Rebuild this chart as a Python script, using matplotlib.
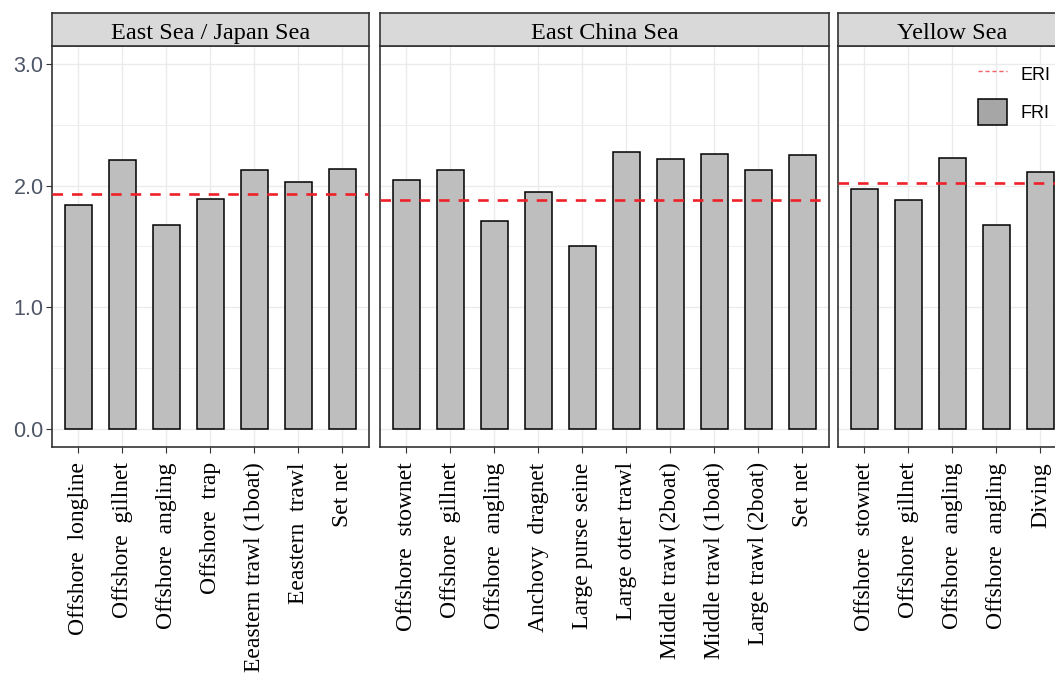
import matplotlib.pyplot as plt
from matplotlib.lines import Line2D
from matplotlib.patches import Patch
import numpy as np

# --- data ---
seas = ["East Sea / Japan Sea", "East China Sea", "Yellow Sea"]

east_gears = ["Offshore  longline", "Offshore  gillnet", "Offshore  angling",
              "Offshore  trap", "Eeastern trawl (1boat)", "Eeastern  trawl",
              "Set net"]
east_fri = [1.84, 2.21, 1.68, 1.89, 2.13, 2.03, 2.14]
east_eri = 1.93

ecs_gears = ["Offshore  stownet", "Offshore  gillnet", "Offshore  angling",
             "Anchovy  dragnet", "Large purse seine", "Large otter trawl",
             "Middle trawl (2boat)", "Middle trawl (1boat)",
             "Large trawl (2boat)", "Set net"]
ecs_fri = [2.05, 2.13, 1.71, 1.95, 1.50, 2.28, 2.22, 2.26, 2.13, 2.25]
ecs_eri = 1.88

yellow_gears = ["Offshore  stownet", "Offshore  gillnet", "Offshore  angling",
                "Offshore  angling", "Diving"]
yellow_fri = [1.975, 1.88, 2.225, 1.68, 2.11]
yellow_eri = 2.02

panels = [
    (east_gears, east_fri, east_eri),
    (ecs_gears, ecs_fri, ecs_eri),
    (yellow_gears, yellow_fri, yellow_eri),
]

W, H = 1055, 677
fig = plt.figure(figsize=(W / 100, H / 100), dpi=100)

# panel boxes in pixels: left edges, shared top/bottom
px_left = [52, 380, 838]
unit = 44.0
top_px, bot_px, strip_px = 46, 447, 33

BAR_FILL = "#bebebe"
RED = "#ee2028"
GRID = "#ebebeb"
FRAME = "#333333"
SERIF = "Liberation Serif"
SANS = "Liberation Sans"

for i, (gears, fri, eri) in enumerate(panels):
    n = len(gears)
    left = px_left[i]
    width = (n + 0.2) * unit
    ax = fig.add_axes([left / W, (H - bot_px) / H, width / W,
                       (bot_px - top_px) / H])
    x = np.arange(1, n + 1)
    ax.set_xlim(0.4, n + 0.6)
    ax.set_ylim(-0.15, 3.15)

    ax.set_yticks([0, 1, 2, 3])
    ax.set_yticks([0.5, 1.5, 2.5], minor=True)
    ax.tick_params(which="minor", left=False, bottom=False)
    ax.grid(True, which="major", color=GRID, lw=1.0)
    ax.grid(True, which="minor", axis="y", color=GRID, lw=0.6)
    ax.set_axisbelow(True)

    ax.bar(x, fri, width=0.6, color=BAR_FILL, edgecolor="black",
           linewidth=1.1, zorder=2)
    ax.axhline(eri, color=RED, lw=1.9, dashes=(4, 3.4), zorder=3)

    ax.set_xticks(x)
    ax.set_xticklabels(gears, rotation=90, family=SERIF,
                       fontsize=17, color="black", va="top")
    ax.tick_params(axis="x", length=4, color=FRAME, pad=7)
    if i == 0:
        ax.set_yticklabels(["0.0", "1.0", "2.0", "3.0"], family=SANS,
                           fontsize=15.5, color="#4d5566")
        ax.tick_params(axis="y", length=4, color=FRAME, pad=2)
    else:
        ax.tick_params(axis="y", left=False, labelleft=False)

    for s in ax.spines.values():
        s.set_color(FRAME)
        s.set_linewidth(1.2)

    # facet strip
    sax = fig.add_axes([left / W, (H - top_px) / H, width / W,
                        strip_px / H])
    sax.set_facecolor("#d9d9d9")
    sax.set_xticks([])
    sax.set_yticks([])
    for s in sax.spines.values():
        s.set_color(FRAME)
        s.set_linewidth(1.2)
    sax.text(0.5, 0.38, seas[i], transform=sax.transAxes, ha="center",
             va="center", family=SERIF, fontsize=17.5)

handles = [
    Line2D([0], [0], color=RED, lw=1.0, ls=(0, (3, 2)), alpha=0.7),
    Patch(facecolor="#a6a6a6", edgecolor="black", linewidth=1.1),
]
fig.legend(handles, ["ERI", "FRI"], loc="upper left",
           bbox_to_anchor=(974 / W, 1 - 58 / H), frameon=False,
           prop={"family": SANS, "size": 13}, handlelength=1.6,
           handleheight=1.85, labelspacing=0.62, handletextpad=0.8,
           borderpad=0.2, borderaxespad=0)

fig.savefig("out.png", dpi=100)
